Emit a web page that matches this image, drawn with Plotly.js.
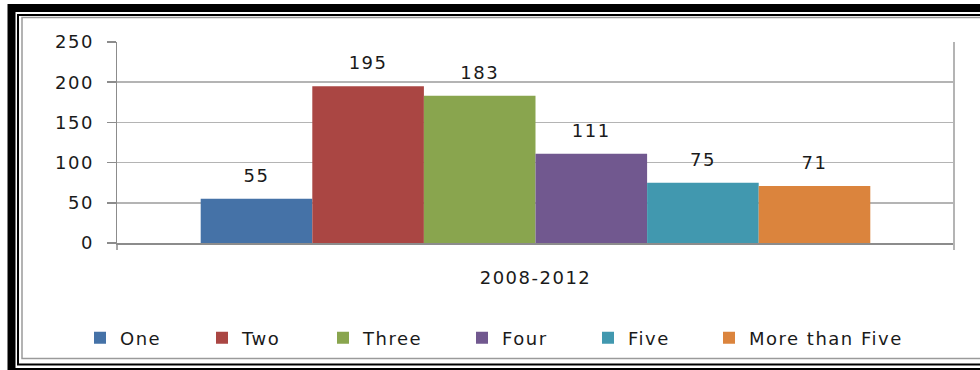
<!DOCTYPE html>
<html>
<head>
<meta charset="utf-8">
<script src="https://cdn.plot.ly/plotly-3.0.1.min.js"></script>
<style>
  html, body { margin: 0; padding: 0; background: #fff; }
  #chart { width: 980px; height: 370px; }
  svg text { letter-spacing: 1.5px; }
</style>
</head>
<body>
<div id="chart"></div>
<script>
// ---- data ----
const categories = ['2008-2012'];
const seriesNames = ['One', 'Two', 'Three', 'Four', 'Five', 'More than Five'];
const seriesValues = [55, 195, 183, 111, 75, 71];
const seriesColors = ['#4572A7', '#AA4643', '#89A54E', '#71588F', '#4198AF', '#DB843D'];
const yTickValues = [0, 50, 100, 150, 200, 250];

// ---- layout geometry (pixels) ----
const W = 980, H = 370;
const M = {l: 117, r: 26, t: 42, b: 127};
const PW = W - M.l - M.r, PH = H - M.t - M.b;
const px = x => (x - M.l) / PW;
const py = y => (H - M.b - y) / PH;

const FONT = {family: 'DejaVu Sans', size: 18, color: '#1a1a1a'};

const traces = [];
seriesNames.forEach((name, i) => {
  traces.push({
    type: 'bar',
    name: name,
    x: categories,
    y: [seriesValues[i]],
    marker: {color: seriesColors[i], line: {width: 0}},
    legend: i === 0 ? 'legend' : 'legend' + (i + 1),
    hoverinfo: 'name+y'
  });
});
seriesNames.forEach((name, i) => {
  traces.push({
    type: 'scatter',
    mode: 'markers+text',
    name: name,
    x: categories,
    y: [seriesValues[i]],
    text: [String(seriesValues[i])],
    textposition: 'top center',
    textfont: FONT,
    marker: {size: 18, opacity: 0, color: seriesColors[i]},
    showlegend: false,
    cliponaxis: false,
    hoverinfo: 'skip'
  });
});

// legends: square left edges at these pixel positions
const legendX = [95, 217, 338, 477, 603, 724];
const legendY = 338;

const layout = {
  width: W, height: H,
  margin: M,
  paper_bgcolor: '#fff',
  plot_bgcolor: '#fff',
  font: FONT,
  barmode: 'group',
  bargap: 0.2,
  bargroupgap: 0,
  scattermode: 'group',
  scattergap: 0.2,
  showlegend: true,
  xaxis: {
    type: 'category',
    showgrid: false,
    zeroline: false,
    showline: true,
    linecolor: '#8c8c8c',
    linewidth: 1.5,
    ticks: '',
    ticklabelstandoff: 18,
    tickfont: FONT,
    fixedrange: true
  },
  yaxis: {
    range: [0, 250],
    tickvals: yTickValues,
    showgrid: true,
    gridcolor: '#b4b4b4',
    gridwidth: 1.5,
    zeroline: false,
    showline: true,
    linecolor: '#8c8c8c',
    linewidth: 1.5,
    ticks: 'outside',
    ticklen: 9,
    tickwidth: 1.5,
    tickcolor: '#8c8c8c',
    ticklabelstandoff: 9,
    tickfont: FONT,
    fixedrange: true
  },
  shapes: [
    // outer thick black frame
    {type: 'rect', xref: 'paper', yref: 'paper', x0: px(11.5), x1: px(992), y0: py(8), y1: py(372),
     line: {color: '#000', width: 8}, fillcolor: 'rgba(0,0,0,0)', layer: 'above'},
    // thin black frame
    {type: 'rect', xref: 'paper', yref: 'paper', x0: px(18), x1: px(985), y0: py(15), y1: py(364.5),
     line: {color: '#000', width: 2}, fillcolor: 'rgba(0,0,0,0)', layer: 'above'},
    // inner gray frame
    {type: 'rect', xref: 'paper', yref: 'paper', x0: px(22), x1: px(990), y0: py(17.5), y1: py(358.5),
     line: {color: '#9a9a9a', width: 1.5}, fillcolor: 'rgba(0,0,0,0)', layer: 'above'},
    // category boundary ticks (left & right) and right plot border
    {type: 'line', xref: 'paper', yref: 'paper', x0: 0, x1: 0, y0: 0, y1: py(250),
     line: {color: '#8c8c8c', width: 1.5}},
    {type: 'line', xref: 'paper', yref: 'paper', x0: 1, x1: 1, y0: 1, y1: py(250),
     line: {color: '#b4b4b4', width: 2}}
  ]
};

seriesNames.forEach((name, i) => {
  const key = i === 0 ? 'legend' : 'legend' + (i + 1);
  layout[key] = {
    orientation: 'h',
    x: px(legendX[i] - 15),
    xanchor: 'left',
    y: py(legendY),
    yanchor: 'middle',
    bgcolor: 'rgba(0,0,0,0)',
    borderwidth: 0,
    font: FONT,
    itemclick: false,
    itemdoubleclick: false
  };
});

Plotly.newPlot('chart', traces, layout, {displayModeBar: false, staticPlot: true});
</script>
</body>
</html>
